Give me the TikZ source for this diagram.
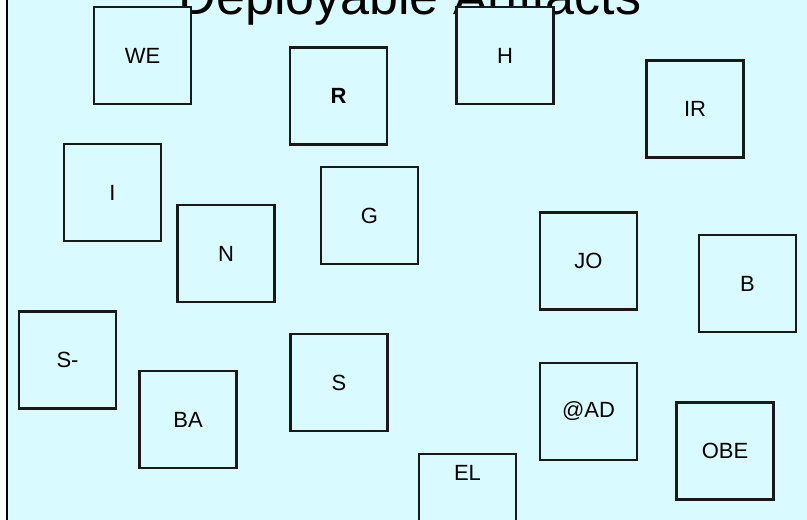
\documentclass[tikz,border=0pt]{standalone}
\usepackage{fontspec}
\setmainfont{Liberation Sans}
\definecolor{bgcyan}{RGB}{217,250,255}
\begin{document}
\begin{tikzpicture}[x=1pt,y=-1pt,
  artbox/.style={draw=black!90, line width=2.4pt, fill=bgcyan, minimum width=97pt, minimum height=97pt, inner sep=0pt, font=\fontsize{22}{26}\selectfont},
  lbl/.style={inner sep=0pt, font=\fontsize{22}{26}\selectfont}]
\useasboundingbox (0,0) rectangle (807,520);
\clip (0,0) rectangle (807,520);
\fill[bgcyan] (7,-10) rectangle (830,540);
\draw[line width=2pt] (7,-10) -- (7,540);
\node[anchor=base, inner sep=0pt, font=\fontsize{52}{60}\selectfont] (title) at (410,14) {Deployable Artifacts};
\node[artbox] (we) at (142.5,55.5) {WE};
\node[artbox] (r) at (338.5,96) {\textbf{R}};
\node[artbox] (h) at (505,55.5) {H};
\node[artbox] (ir) at (695,109) {IR};
\node[artbox] (i) at (112.5,192.5) {I};
\node[artbox] (n) at (226,253.5) {N};
\node[artbox] (g) at (369.5,215.5) {G};
\node[artbox] (jo) at (588.5,261) {JO};
\node[artbox] (b) at (747.5,283.5) {B};
\node[artbox] (sm) at (67.5,360) {S-};
\node[artbox] (ba) at (188,419.5) {BA};
\node[artbox] (s) at (339,382.5) {S};
\node[artbox] (ad) at (588.5,411.5) {@AD};
\node[artbox] (obe) at (725,451) {OBE};
\node[artbox, anchor=north] (el) at (467.5,453) {};
\node[lbl] (eltext) at (467.5,473) {EL};
\end{tikzpicture}
\end{document}
